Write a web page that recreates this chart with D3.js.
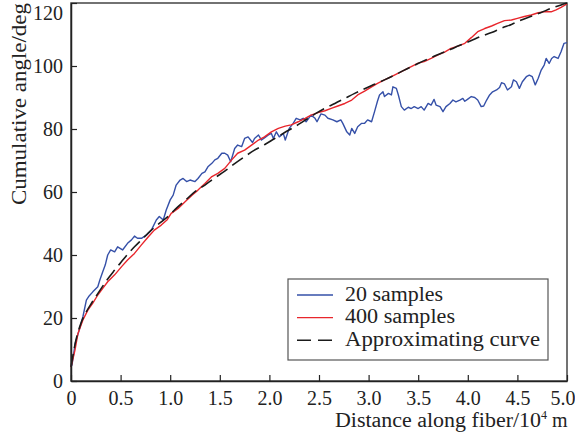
<!DOCTYPE html>
<html>
<head>
<meta charset="utf-8">
<script src="https://cdn.jsdelivr.net/npm/d3@7"></script>
<style>
  html, body { margin: 0; padding: 0; background: #fff; }
  svg { display: block; font-family: "Liberation Serif", "Times New Roman", serif; }
</style>
</head>
<body>
<svg id="chart" width="575" height="441"></svg>
<script>
// ---- Data ----
const xTicks = [0, 0.5, 1.0, 1.5, 2.0, 2.5, 3.0, 3.5, 4.0, 4.5, 5.0];
const xTickLabels = ["0", "0.5", "1.0", "1.5", "2.0", "2.5", "3.0", "3.5", "4.0", "4.5", "5.0"];
const yTicks = [0, 20, 40, 60, 80, 100, 120];
const seriesNames = ["20 samples", "400 samples", "Approximating curve"];
const xTitle = "Distance along fiber/10";
const xTitleSup = "4";
const xTitleUnit = " m";
const yTitle = "Cumulative angle/deg";

const blueX = [0,0.01,0.043,0.088,0.12,0.155,0.178,0.22,0.27,0.29,0.32,0.345,0.37,0.40,0.44,0.47,0.52,0.57,0.61,0.64,0.67,0.71,0.76,0.81,0.86,0.89,0.93,0.96,1.0,1.03,1.06,1.10,1.13,1.165,1.20,1.25,1.28,1.32,1.35,1.38,1.42,1.45,1.48,1.52,1.55,1.58,1.61,1.65,1.68,1.72,1.75,1.785,1.83,1.85,1.89,1.92,1.95,1.99,2.02,2.04,2.07,2.10,2.14,2.16,2.20,2.24,2.27,2.31,2.34,2.37,2.42,2.46,2.48,2.52,2.56,2.59,2.64,2.68,2.72,2.74,2.78,2.81,2.83,2.86,2.89,2.93,2.96,2.99,3.03,3.06,3.09,3.11,3.145,3.16,3.20,3.23,3.245,3.28,3.30,3.33,3.36,3.40,3.43,3.46,3.50,3.53,3.56,3.60,3.63,3.66,3.68,3.72,3.75,3.78,3.82,3.85,3.88,3.92,3.95,3.97,4.0,4.035,4.07,4.10,4.135,4.16,4.19,4.22,4.25,4.29,4.32,4.34,4.37,4.40,4.44,4.46,4.49,4.52,4.55,4.59,4.62,4.65,4.68,4.71,4.74,4.77,4.79,4.82,4.845,4.87,4.91,4.94,4.97,5.0];
const blueY = [4.5,5.1,12,16.7,20.4,25.7,26.8,28.3,29.9,32,34.7,36.8,40,41.6,41,42.6,41.6,43.7,44.8,46,45.3,45.3,46.3,47.9,51.1,52.2,51.1,54.3,57.5,59,62.2,63.8,64.3,63.3,63.8,63.3,64.3,65.9,66.4,68,69.1,70.2,70.7,72.3,72.3,71.7,69.6,73.8,74.9,74.4,77,77.5,75.7,77,78.1,76.5,77.2,78.1,78.6,77,79.1,77.5,78.6,76.5,80.2,81.8,83.4,82.9,83.4,82.3,84.4,83.4,82.3,84.8,84.4,83.4,82.9,82.3,82.9,81.8,79.1,78.1,80.2,78.6,80.7,81.8,81.8,82.9,82.3,85.5,88.9,90.8,91.8,90.3,91.3,90.8,93.4,92.9,90.8,87.1,86,86.9,86.5,87.1,86.5,87.1,86,88.1,87.6,89.4,87.6,87.1,85.5,87.1,88.1,89.2,88.6,89.2,89.7,88.8,89.5,90.3,90,89.2,87.1,87.3,89.2,90.8,91.8,92.4,93.2,94.7,94.3,92.4,93.4,95.6,95,92.9,95,96.6,97.1,96.6,94,96.1,98.7,100.3,102.4,100.8,102.4,103,102.4,104.5,107.2,107.4];

const redX = [0,0.04,0.07,0.12,0.17,0.22,0.27,0.32,0.37,0.44,0.51,0.57,0.64,0.71,0.78,0.84,0.91,0.97,1.01,1.08,1.15,1.22,1.28,1.35,1.42,1.48,1.55,1.62,1.68,1.75,1.82,1.89,1.95,2.02,2.09,2.16,2.22,2.29,2.36,2.42,2.49,2.56,2.63,2.69,2.76,2.83,2.89,2.96,3.03,3.09,3.16,3.23,3.30,3.36,3.43,3.50,3.56,3.63,3.70,3.77,3.83,3.90,3.97,4.035,4.10,4.17,4.24,4.30,4.37,4.44,4.50,4.57,4.64,4.71,4.77,4.84,4.89,4.94,5.0];
const redY = [4.3,9.8,15.1,19.4,22.5,24.7,27.3,29.4,31.5,33.7,36.3,38.4,40.5,43.2,45.8,47.9,49.5,51.2,53.2,54.8,56.9,59,60.6,62.7,64.9,65.9,67.5,70.2,72.3,73.3,74.9,76.5,77.5,79.1,80.2,80.9,81.3,82.3,83.4,84.4,85.2,85.8,86.6,87.3,88.1,89.2,90.8,92,93.4,94.5,95.6,96.6,97.7,98.7,99.8,100.9,101.4,102.4,103.5,104.5,105.6,106.3,107.2,109,110.9,111.9,112.7,113.5,114.4,114.6,115.1,115.7,116.2,116.9,117.2,117.2,117.8,118.6,119.7];

const fitX = [0,0.05,0.10,0.155,0.205,0.255,0.305,0.37,0.44,0.51,0.57,0.64,0.71,0.81,0.91,0.99,1.05,1.15,1.25,1.35,1.45,1.55,1.65,1.75,1.85,1.95,2.05,2.15,2.26,2.36,2.46,2.56,2.66,2.76,2.86,2.96,3.06,3.16,3.26,3.36,3.46,3.56,3.66,3.77,3.87,3.97,4.03,4.13,4.24,4.34,4.44,4.54,4.64,4.74,4.84,4.94,5.0];
const fitY = [4.5,13,18.3,22,24.6,27,29.4,32.4,35.2,37.9,40.2,42.6,44.8,47.9,50.5,52.6,54.5,57.3,60.1,62.2,64.5,66.6,69,71.2,73.3,75,76.9,78.8,80.8,82.8,84.8,86.6,88.1,89.7,91.3,92.8,94.2,95.6,97.1,98.7,100.2,101.7,103.1,104.5,105.9,107.2,108,109.4,110.6,112,113.2,114.6,115.8,117,118.3,119.4,120];

const colors = ["#3550a8", "#e8262c", "#1a1a1a"];

// ---- Chart ----
const svg = d3.select("#chart");
const x = d3.scaleLinear().domain([0, 5]).range([71, 567]);
const y = d3.scaleLinear().domain([0, 120]).range([381, 3]);

const line = d3.line().x(d => x(d[0])).y(d => y(d[1]));
const zip = (a, b) => a.map((v, i) => [v, b[i]]);

// frame (top/right)
svg.append("rect")
  .attr("x", x(0)).attr("y", y(120))
  .attr("width", x(5) - x(0)).attr("height", y(0) - y(120))
  .attr("fill", "none").attr("stroke", "#444").attr("stroke-width", 1.5);

// data lines
svg.append("path").datum(zip(blueX, blueY))
  .attr("d", line).attr("fill", "none").attr("stroke", colors[0]).attr("stroke-width", 1.4).attr("stroke-linejoin", "round");
svg.append("path").datum(zip(redX, redY))
  .attr("d", line).attr("fill", "none").attr("stroke", colors[1]).attr("stroke-width", 1.4).attr("stroke-linejoin", "round");
svg.append("path").datum(zip(fitX, fitY))
  .attr("d", d3.line().curve(d3.curveMonotoneX).x(d => x(d[0])).y(d => y(d[1])))
  .attr("fill", "none").attr("stroke", colors[2]).attr("stroke-width", 1.6).attr("stroke-dasharray", "13,6");

// axes
const xAxis = d3.axisBottom(x).tickValues(xTicks).tickFormat((d, i) => xTickLabels[i])
  .tickSizeInner(-6).tickSizeOuter(0).tickPadding(10);
const gx = svg.append("g").attr("transform", `translate(0,${y(0)})`).call(xAxis);
const yAxis = d3.axisLeft(y).tickValues(yTicks).tickFormat(d3.format("d"))
  .tickSizeInner(-6).tickSizeOuter(0).tickPadding(8);
const gy = svg.append("g").attr("transform", `translate(${x(0)},0)`).call(yAxis);

[gx, gy].forEach(g => {
  g.select(".domain").attr("stroke", "#222").attr("stroke-width", 1.5);
  g.selectAll(".tick line").attr("stroke", "#222").attr("stroke-width", 1.2);
  g.selectAll(".tick text").attr("font-size", 20).attr("fill", "#222")
    .attr("font-family", '"Liberation Serif", "Times New Roman", serif');
});
// top y label nudged down, last x label kept inside the window, as in the reference
gy.selectAll(".tick").filter(d => d === 120).select("text").attr("dy", "0.82em");
gx.selectAll(".tick").filter(d => d === 5).select("text").attr("text-anchor", "end").attr("x", 575 - x(5));

// axis titles
const xt = svg.append("text")
  .attr("x", 335).attr("y", 427).attr("text-anchor", "start")
  .attr("font-size", 20).attr("fill", "#222");
xt.append("tspan").text(xTitle).attr("textLength", 206).attr("lengthAdjust", "spacingAndGlyphs");
xt.append("tspan").text(xTitleSup).attr("font-size", 12).attr("dy", -8);
xt.append("tspan").text(xTitleUnit).attr("dy", 8);

svg.append("text")
  .attr("transform", "translate(26,205) rotate(-90)")
  .attr("text-anchor", "start")
  .attr("font-size", 20).attr("fill", "#222")
  .attr("textLength", 202).attr("lengthAdjust", "spacingAndGlyphs")
  .text(yTitle);

// legend
const lg = svg.append("g");
lg.append("rect").attr("x", 288).attr("y", 279).attr("width", 260).attr("height", 81)
  .attr("fill", "#fff").attr("stroke", "#555").attr("stroke-width", 1.2);
const legendDash = [null, null, "14,7"];
const legendTextLen = [98, 110, 195];
seriesNames.forEach((name, i) => {
  const yy = 295 + i * 22.6;
  lg.append("line").attr("x1", 297).attr("x2", 333).attr("y1", yy).attr("y2", yy)
    .attr("stroke", colors[i]).attr("stroke-width", 1.4)
    .attr("stroke-dasharray", legendDash[i]);
  lg.append("text").attr("x", 345).attr("y", yy + 5.5)
    .attr("font-size", 20).attr("fill", "#222")
    .attr("textLength", legendTextLen[i]).attr("lengthAdjust", "spacingAndGlyphs")
    .text(name);
});
</script>
</body>
</html>
